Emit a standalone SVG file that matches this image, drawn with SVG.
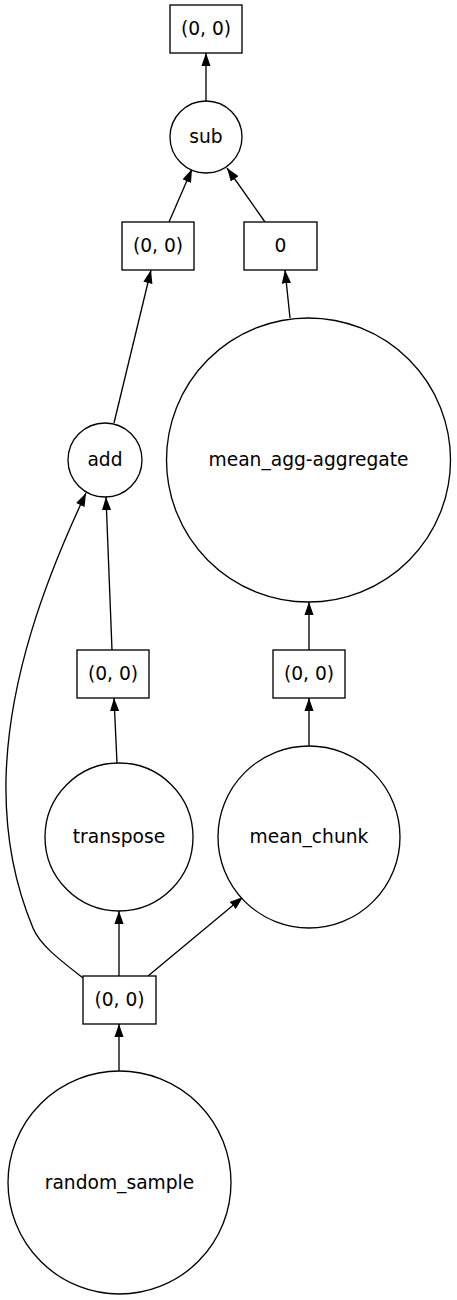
<svg xmlns="http://www.w3.org/2000/svg" width="457" height="1300" viewBox="0 0 457 1300">
<style>
.n{fill:#fff;stroke:#000;stroke-width:1.33}
.t{font-family:"DejaVu Sans",sans-serif;font-size:18.67px;text-anchor:middle;fill:#000}
.e{fill:none;stroke:#000;stroke-width:1.33}
</style>
<defs>
<marker id="a" viewBox="0 0 13.3 9.33" refX="13.3" refY="4.67" markerWidth="13.3" markerHeight="9.33" markerUnits="userSpaceOnUse" orient="auto">
<path d="M0,0 L13.3,4.67 L0,9.33 z" fill="#000"/>
</marker>
</defs>
<rect width="457" height="1300" fill="#fff"/>
<g id="edges">
<path class="e" marker-end="url(#a)" d="M206,101 L206,53"/>
<path class="e" marker-end="url(#a)" d="M169,222 L192,169"/>
<path class="e" marker-end="url(#a)" d="M265,222 L227,168"/>
<path class="e" marker-end="url(#a)" d="M114,423 L151,270"/>
<path class="e" marker-end="url(#a)" d="M290,318 L285,270"/>
<path class="e" marker-end="url(#a)" d="M112,650 L106,497"/>
<path class="e" marker-end="url(#a)" d="M83,978 C60,960 40,945 33,928 C15,885 5,835 6,780 C8,680 45,580 86,493"/>
<path class="e" marker-end="url(#a)" d="M117,763 L114,698"/>
<path class="e" marker-end="url(#a)" d="M119,976 L119,911"/>
<path class="e" marker-end="url(#a)" d="M148,976 L243,897"/>
<path class="e" marker-end="url(#a)" d="M309,746 L309,698"/>
<path class="e" marker-end="url(#a)" d="M309,650 L309,602"/>
<path class="e" marker-end="url(#a)" d="M119,1071 L119,1024"/>
</g>
<g id="out"><rect class="n" x="170" y="5" width="72" height="48"/><text class="t" x="206" y="35">(0, 0)</text></g>
<g id="sub"><circle class="n" cx="206" cy="137" r="36"/><text class="t" x="206" y="143">sub</text></g>
<g id="boxl"><rect class="n" x="122" y="222" width="72" height="48"/><text class="t" x="158" y="252">(0, 0)</text></g>
<g id="box0"><rect class="n" x="244" y="222" width="73" height="48"/><text class="t" x="280.5" y="252">0</text></g>
<g id="add"><circle class="n" cx="105" cy="460" r="37"/><text class="t" x="105" y="466">add</text></g>
<g id="meanagg"><circle class="n" cx="308.5" cy="460" r="142"/><text class="t" x="308.5" y="466">mean_agg-aggregate</text></g>
<g id="boxml"><rect class="n" x="77" y="650" width="72" height="48"/><text class="t" x="113" y="680">(0, 0)</text></g>
<g id="boxr"><rect class="n" x="273" y="650" width="72" height="48"/><text class="t" x="309" y="680">(0, 0)</text></g>
<g id="transpose"><circle class="n" cx="119" cy="837" r="74"/><text class="t" x="119" y="843">transpose</text></g>
<g id="meanchunk"><circle class="n" cx="309" cy="837" r="91"/><text class="t" x="309" y="843">mean_chunk</text></g>
<g id="boxb"><rect class="n" x="83" y="976" width="73" height="48"/><text class="t" x="119.5" y="1006">(0, 0)</text></g>
<g id="random"><circle class="n" cx="119.5" cy="1182.5" r="111.5"/><text class="t" x="119.5" y="1188.5">random_sample</text></g>
</svg>
